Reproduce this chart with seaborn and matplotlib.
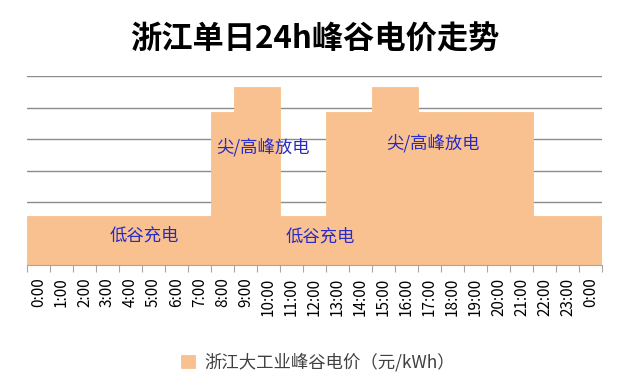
import matplotlib
matplotlib.use("Agg")
import matplotlib.pyplot as plt
import seaborn as sns
import pandas as pd
import numpy as np

# hourly price levels (yuan/kWh), 0:00 .. 23:00 and the closing 0:00
hours = ["0:00", "1:00", "2:00", "3:00", "4:00", "5:00", "6:00", "7:00", "8:00",
         "9:00", "10:00", "11:00", "12:00", "13:00", "14:00", "15:00", "16:00",
         "17:00", "18:00", "19:00", "20:00", "21:00", "22:00", "23:00", "0:00"]
prices = [0.31, 0.31, 0.31, 0.31, 0.31, 0.31, 0.31, 0.31, 0.97,
          1.13, 1.13, 0.31, 0.31, 0.97, 0.97, 1.13, 1.13,
          0.97, 0.97, 0.97, 0.97, 0.97, 0.31, 0.31, 0.31]
series_name = "浙江大工业峰谷电价（元/kWh）"
title = "浙江单日24h峰谷电价走势"
notes = ["低谷充电", "尖/高峰放电", "低谷充电", "尖/高峰放电"]
note_pos = [(4.6, 0.19), (9.78, 0.745), (12.25, 0.183), (17.17, 0.775)]

sns.set_theme(style="white")
plt.rcParams['font.family'] = ['Noto Sans CJK SC', 'DejaVu Sans']

fill = "#F8C18F"
df = pd.DataFrame({"pos": np.arange(len(hours)), "price": prices})

fig = plt.figure(figsize=(6.26, 3.74), dpi=100)
ax = fig.add_axes([27 / 626, 1 - 265 / 374, 575 / 626, 189 / 374])

sns.barplot(data=df, x="pos", y="price", color=fill, width=1.0, saturation=1,
            edgecolor=fill, linewidth=0.6, label=series_name, ax=ax, zorder=2)

ax.set_xlim(-0.5, len(hours) - 0.5)
ax.set_ylim(0, 1.2)
ax.set_yticks(np.arange(0, 1.21, 0.2))
ax.set_yticklabels([])
ax.tick_params(axis="y", length=0)
ax.yaxis.grid(True, color="#8c8c8c", linewidth=1.0, zorder=0)
ax.set_axisbelow(True)

ax.set_xticks(np.arange(len(hours)))
ax.set_xticklabels(hours, rotation=90, fontsize=11, color="#000000", va="top")
ax.set_xticks(np.arange(len(hours) + 1) - 0.5, minor=True)
ax.tick_params(axis="x", which="major", length=0, pad=9)
ax.tick_params(axis="x", which="minor", length=5, color="#a6a6a6", width=0.8, bottom=True)
ax.set_xlabel("")
ax.set_ylabel("")

for side in ["left", "right", "top"]:
    ax.spines[side].set_visible(False)
ax.spines["bottom"].set_color("#a6a6a6")
ax.spines["bottom"].set_linewidth(0.8)

for txt, (x, y) in zip(notes, note_pos):
    ax.text(x, y, txt, ha="center", va="center", fontsize=12.5, color="#2a2ac4", zorder=5)

if ax.legend_:
    ax.legend_.remove()
handles, labels = ax.get_legend_handles_labels()
fig.legend(handles[:1], labels[:1], loc="center", bbox_to_anchor=(0.508, 0.032),
           frameon=False, handlelength=0.8, handleheight=0.8, handletextpad=0.5,
           prop={"size": 12.5}, labelcolor="#404040")

fig.text(0.503, 0.895, title, ha="center", va="center", fontsize=22.5,
         fontweight="bold", color="#000000")

fig.savefig("out.png", dpi=100)
